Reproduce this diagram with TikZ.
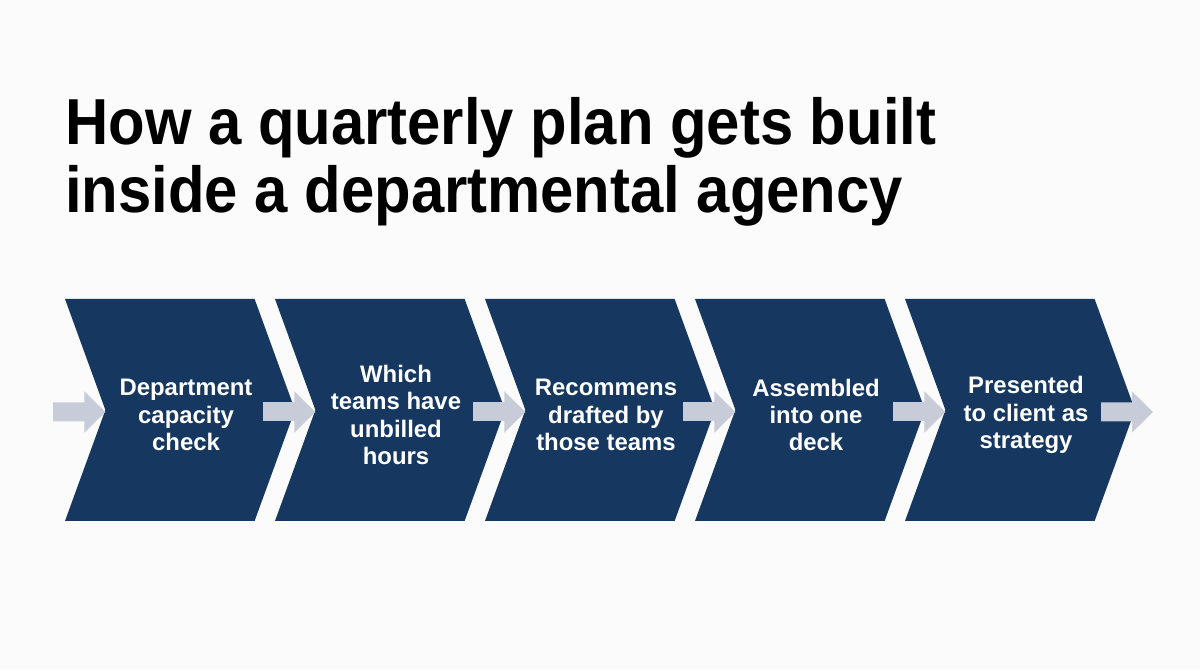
\documentclass[tikz,border=0pt]{standalone}
\usepackage{fontspec}
\setmainfont{Liberation Sans}
\newfontfamily\titlefont[FakeStretch=0.92]{Liberation Sans}
\usepackage{tikz}
\usetikzlibrary{shapes.symbols, arrows.meta}
\definecolor{navy}{RGB}{22,56,96}
\definecolor{flowgray}{RGB}{200,203,216}
\definecolor{paper}{RGB}{251,251,251}
\tikzstyle{stage} = [signal, signal to=east, signal from=west, signal pointer angle=140, minimum width=4.6cm, minimum height=4.44cm, inner sep=0pt, outer sep=0pt, fill=navy]
\tikzstyle{caption} = [text=white, font=\bfseries\fontsize{13.6}{15.6}\selectfont, align=center, inner sep=0pt]
\tikzstyle{flow} = [line width=0.38cm, draw=flowgray, -{Triangle[length=0.42cm, width=0.8cm]}]
\tikzstyle{heading} = [anchor=base west, inner sep=0pt, align=left, font=\titlefont\bfseries\fontsize{37}{38.7}\selectfont]

\begin{document}
\begin{tikzpicture}[node distance=4.2cm]
\fill[paper] (0,0) rectangle (24,13.4);
\useasboundingbox (0,0) rectangle (24,13.4);
\node (title) [heading] at (1.3,9.14) {How a quarterly plan gets built\\inside a departmental agency};

\node (c1) [stage] at (3.6,5.2) {};
\node (c2) [stage, right of=c1] {};
\node (c3) [stage, right of=c2] {};
\node (c4) [stage, right of=c3] {};
\node (c5) [stage, right of=c4] {};

\node (t1) [caption] at ([xshift=0.12cm, yshift=-0.1cm]c1) {Department\\capacity\\check};
\node (t2) [caption] at ([xshift=0.12cm, yshift=-0.1cm]c2) {Which\\teams have\\unbilled\\hours};
\node (t3) [caption] at ([xshift=0.12cm, yshift=-0.1cm]c3) {Recommens\\drafted by\\those teams};
\node (t4) [caption] at ([xshift=0.12cm, yshift=-0.1cm]c4) {Assembled\\into one\\deck};
\node (t5) [caption] at ([xshift=0.12cm, yshift=-0.1cm]c5) {Presented\\to client as\\strategy};

\coordinate (in) at (1.06,5.16);
\coordinate (out) at (23.06,5.16);

\draw [flow] (in) -- ([yshift=-0.04cm]c1.west);
\draw [flow] ([xshift=-1.04cm, yshift=-0.04cm]c2.west) -- ([yshift=-0.04cm]c2.west);
\draw [flow] ([xshift=-1.04cm, yshift=-0.04cm]c3.west) -- ([yshift=-0.04cm]c3.west);
\draw [flow] ([xshift=-1.04cm, yshift=-0.04cm]c4.west) -- ([yshift=-0.04cm]c4.west);
\draw [flow] ([xshift=-1.04cm, yshift=-0.04cm]c5.west) -- ([yshift=-0.04cm]c5.west);
\draw [flow] ([xshift=-0.68cm, yshift=-0.04cm]c5.east) -- (out);
\end{tikzpicture}
\end{document}
